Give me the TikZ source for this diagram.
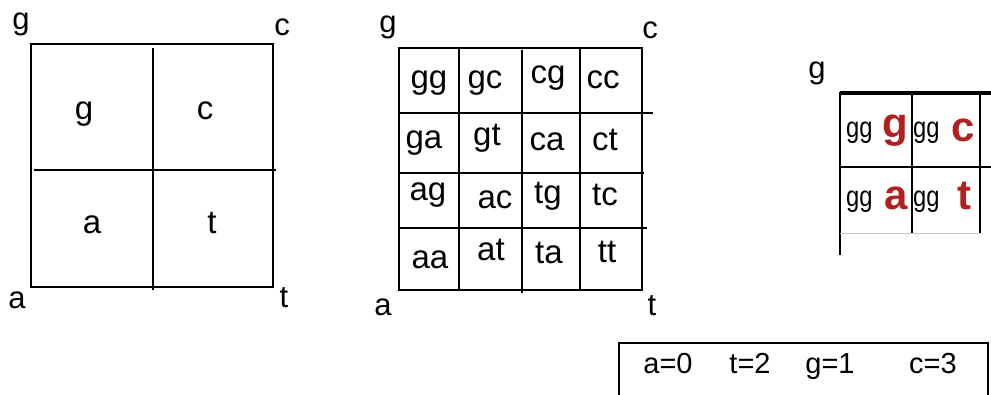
\documentclass[tikz,border=0pt]{standalone}
\usepackage{fontspec}
\setmainfont{Liberation Sans}
\definecolor{basered}{RGB}{178,32,32}
\definecolor{faintgray}{RGB}{200,200,200}
\newcommand{\narrowgg}{\scalebox{0.82}[1]{gg}}
\begin{document}
\begin{tikzpicture}[x=1pt,y=-1pt,
  grid/.style={line width=1.6pt,black},
  lbl/.style={anchor=base,inner sep=0pt,font=\fontsize{31}{36}\selectfont},
  clbl/.style={anchor=base,inner sep=0pt,font=\fontsize{33}{38}\selectfont},
  klbl/.style={anchor=base,inner sep=0pt,font=\fontsize{29}{34}\selectfont},
  pre/.style={anchor=base west,inner sep=0pt,font=\fontsize{29}{34}\selectfont},
  hot/.style={anchor=base,inner sep=0pt,text=basered,font=\fontsize{42}{48}\selectfont\bfseries}]
\useasboundingbox (0,0) rectangle (991,394);

% first level: four quadrants
\draw[grid] (31,44) rectangle (273,287);
\draw[grid] (153,48) -- (153,290);
\draw[grid] (34,170) -- (276,170);
\node[lbl] (l-cg) at (21,29) {g};
\node[lbl] (l-cc) at (282,35) {c};
\node[lbl] (l-ca) at (17,308) {a};
\node[lbl] (l-ct) at (284,307) {t};
\node[clbl] (l-g) at (84,119) {g};
\node[clbl] (l-c) at (205,119) {c};
\node[clbl] (l-a) at (92,233) {a};
\node[clbl] (l-t) at (212,233) {t};

% second level: sixteen cells
\draw[grid] (399,48) rectangle (642,290);
\draw[grid] (459,48) -- (459,290);
\draw[grid] (522,50) -- (522,293);
\draw[grid] (580,48) -- (580,290);
\draw[grid] (399,113) -- (653,113);
\draw[grid] (399,173) -- (644,173);
\draw[grid] (399,228) -- (647,228);
\node[lbl] (m-cg) at (388,32) {g};
\node[lbl] (m-cc) at (650,38) {c};
\node[lbl] (m-ca) at (383,315) {a};
\node[lbl] (m-ct) at (652,315) {t};
\node[clbl] (m-gg) at (429,88) {gg};
\node[clbl] (m-gc) at (485,88) {gc};
\node[clbl] (m-cg2) at (548,83) {cg};
\node[clbl] (m-cc2) at (603,88) {cc};
\node[clbl] (m-ga) at (424,148) {ga};
\node[clbl] (m-gt) at (487,145) {gt};
\node[clbl] (m-ca2) at (547,150) {ca};
\node[clbl] (m-ct2) at (605,150) {ct};
\node[clbl] (m-ag) at (428,200) {ag};
\node[clbl] (m-ac) at (495,208) {ac};
\node[clbl] (m-tg) at (548,203) {tg};
\node[clbl] (m-tc) at (605,205) {tc};
\node[clbl] (m-aa) at (430,268) {aa};
\node[clbl] (m-at) at (491,260) {at};
\node[clbl] (m-ta) at (549,263) {ta};
\node[clbl] (m-tt) at (607,262) {tt};

% third level: corner of the gg block
\draw[line width=3.2pt] (840,93) -- (991,93);
\draw[grid] (840,92) -- (840,255);
\draw[grid] (912,93) -- (912,233);
\draw[grid] (980,93) -- (980,233);
\draw[grid] (840,167) -- (991,167);
\draw[line width=1pt,faintgray] (840,233) -- (980,233);
\node[lbl] (r-cg) at (817,78) {g};
\node[pre] (r-gg1) at (846,137) {\narrowgg};
\node[hot] (r-g) at (895,137) {g};
\node[pre] (r-gg2) at (913,137) {\narrowgg};
\node[hot] (r-c) at (963,141) {c};
\node[pre] (r-gg3) at (846,206) {\narrowgg};
\node[hot] (r-a) at (896,209) {a};
\node[pre] (r-gg4) at (913,206) {\narrowgg};
\node[hot] (r-t) at (964,209) {t};

% base codes
\draw[line width=2pt] (619,396) -- (619,343) -- (988,343) -- (988,396);
\node[klbl] (k-a) at (668,373) {a=0};
\node[klbl] (k-t) at (750,373) {t=2};
\node[klbl] (k-g) at (830,373) {g=1};
\node[klbl] (k-c) at (933,373) {c=3};
\end{tikzpicture}
\end{document}
